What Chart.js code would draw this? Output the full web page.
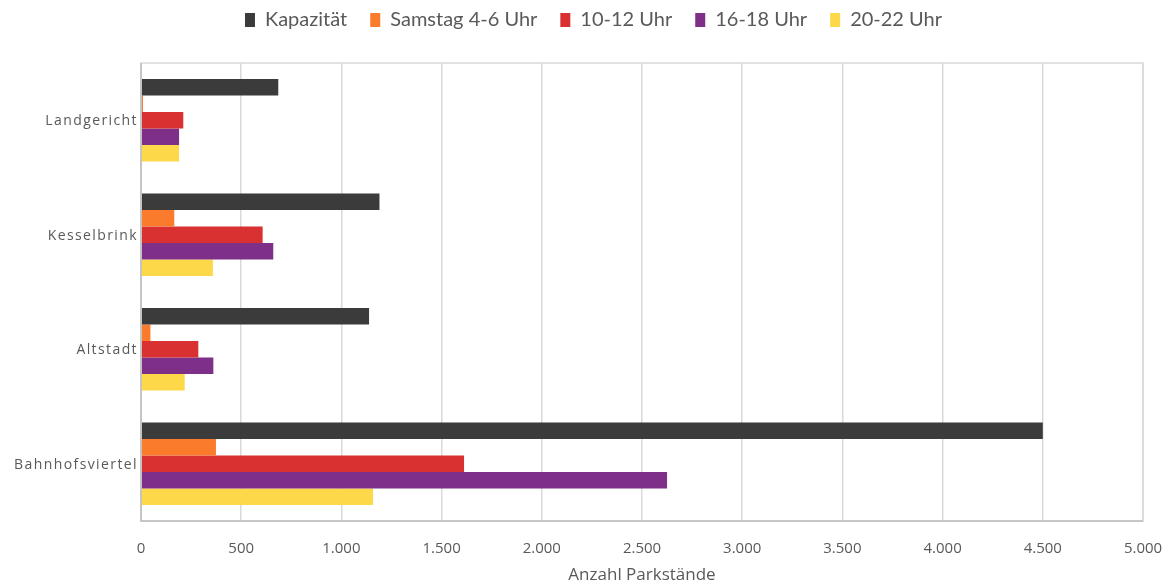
<!DOCTYPE html>
<html lang="de">
<head>
<meta charset="utf-8">
<title>Parkstände nach Quartier</title>
<script src="https://cdn.jsdelivr.net/npm/chart.js@4.4.0/dist/chart.umd.min.js"></script>
<style>
  html, body { margin: 0; padding: 0; background: #fff; }
  #wrap { width: 1171px; height: 586px; }
</style>
</head>
<body>
<div id="wrap"><canvas id="parkChart"></canvas></div>
<script>
// Quartiere und Belegung je Zeitfenster
const areas = ['Landgericht', 'Kesselbrink', 'Altstadt', 'Bahnhofsviertel'];
const capacity = [685, 1190, 1138, 4500];
const sat4to6 = [10, 166, 47, 374];
const sat10to12 = [211, 607, 286, 1612];
const sat16to18 = [190, 660, 361, 2625];
const sat20to22 = [190, 359, 218, 1158];
const xTicks = [0, 500, 1000, 1500, 2000, 2500, 3000, 3500, 4000, 4500, 5000];

const textColor = '#595959';
const gridColor = '#d9d9d9';

function formatThousands(v) {
    return String(v).replace(/\B(?=(\d{3})+(?!\d))/g, '.');
}

function makeSet(label, data, color) {
    return {
        label: label,
        data: data,
        backgroundColor: color,
        borderWidth: 0,
        barPercentage: 1.0,
        categoryPercentage: 0.72
    };
}

// Legende etwas nach oben/rechts ruecken, Abstand zur Zeichenflaeche bleibt
const legendShift = {
    id: 'legendShift',
    afterLayout(chart) {
        const lg = chart.legend;
        if (!lg) return;
        lg.top -= 23;
        lg.bottom -= 23;
        lg.left += 20;
        lg.right += 20;
    }
};

// Rahmen um die Zeichenflaeche und gesperrte Kategorienbeschriftung
const plotFrame = {
    id: 'plotFrame',
    afterDraw(chart) {
        const a = chart.chartArea;
        const ctx = chart.ctx;
        ctx.save();
        ctx.strokeStyle = gridColor;
        ctx.lineWidth = 1.5;
        ctx.strokeRect(a.left, a.top, a.right - a.left, a.bottom - a.top);
        ctx.strokeStyle = '#bfbfbf';
        ctx.beginPath();
        ctx.moveTo(a.left, a.top);
        ctx.lineTo(a.left, a.bottom);
        ctx.lineTo(a.right, a.bottom);
        ctx.stroke();

        const yScale = chart.scales.y;
        ctx.font = '14px "Open Sans"';
        ctx.fillStyle = textColor;
        ctx.textAlign = 'right';
        ctx.textBaseline = 'middle';
        ctx.letterSpacing = '1.4px';
        areas.forEach((name, i) => {
            ctx.fillText(name, a.left - 3, yScale.getPixelForTick(i) + 1);
        });
        ctx.restore();
    }
};

const ctx = document.getElementById('parkChart').getContext('2d');
const chart = new Chart(ctx, {
    type: 'bar',
    data: {
        labels: areas,
        datasets: [
            makeSet('Kapazität', capacity, '#3b3b3b'),
            makeSet('Samstag 4-6 Uhr', sat4to6, '#fa7b2b'),
            makeSet('10-12 Uhr', sat10to12, '#d93131'),
            makeSet('16-18 Uhr', sat16to18, '#7e2f87'),
            makeSet('20-22 Uhr', sat20to22, '#fdd94a')
        ]
    },
    options: {
        indexAxis: 'y',
        responsive: true,
        maintainAspectRatio: false,
        animation: false,
        layout: {
            padding: { left: 4, right: 28, top: 10, bottom: 0 }
        },
        plugins: {
            legend: {
                position: 'top',
                labels: {
                    color: textColor,
                    font: { family: 'Lato', size: 20 },
                    boxWidth: 10,
                    boxHeight: 14,
                    padding: 23
                }
            },
            tooltip: { enabled: false }
        },
        scales: {
            x: {
                type: 'linear',
                min: 0,
                max: 5000,
                afterBuildTicks(scale) {
                    scale.ticks = xTicks.map(v => ({ value: v }));
                },
                afterFit(scale) {
                    scale.height = 65;
                    scale.paddingRight = 0;
                },
                ticks: {
                    color: textColor,
                    font: { family: 'Open Sans', size: 15 },
                    padding: 19,
                    maxRotation: 0,
                    callback: v => formatThousands(v)
                },
                grid: {
                    color: gridColor,
                    lineWidth: 1.5,
                    drawTicks: false
                },
                border: { display: false },
                title: {
                    display: true,
                    text: 'Anzahl Parkstände',
                    color: textColor,
                    font: { family: 'Open Sans', size: 17 },
                    padding: { top: 0, bottom: 1 }
                }
            },
            y: {
                type: 'category',
                afterFit(scale) {
                    scale.width = 137;
                },
                ticks: { display: false },
                grid: { display: false, drawTicks: false },
                border: { display: false }
            }
        }
    },
    plugins: [legendShift, plotFrame]
});
</script>
</body>
</html>
